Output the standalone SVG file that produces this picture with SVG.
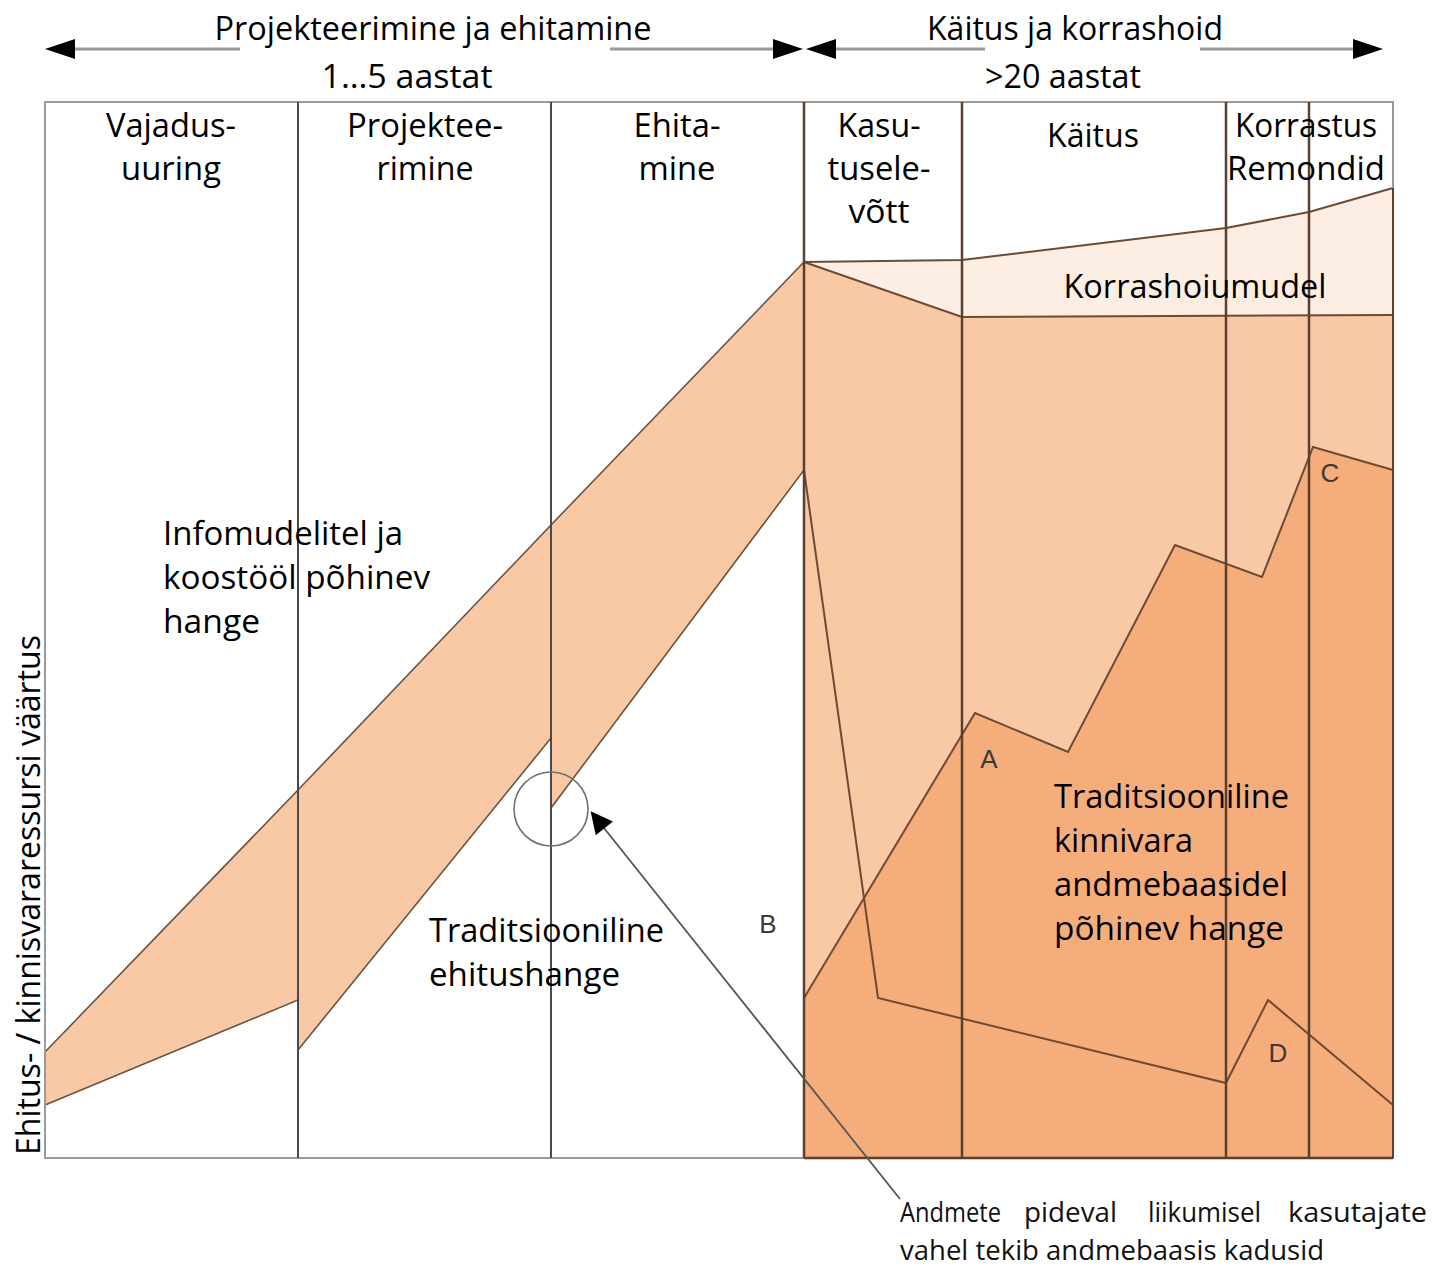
<svg xmlns="http://www.w3.org/2000/svg" width="1432" height="1266" viewBox="0 0 1432 1266">
<style>
.t{font-family:"Open Sans","Noto Sans",sans-serif;font-size:32px;fill:#000}
.c{text-anchor:middle}
.s{font-family:"Open Sans","Noto Sans",sans-serif;font-size:27px;fill:#111}
.lbl{font-family:"Liberation Sans",Arial,sans-serif;font-size:26px;fill:#3a3a3a}
.band{fill:#f9c9a5;stroke:#6a5444;stroke-width:1.6;stroke-linejoin:miter}
.ln{fill:none;stroke:#6e4a34;stroke-width:2}
.div{stroke:#4a4a4a;stroke-width:2}
.divb{stroke:#5c3f2c;stroke-width:2.5}
.arr{stroke:#9a9a9a;stroke-width:3}
</style>
<defs>
<marker id="bh" viewBox="0 0 10 10" refX="9" refY="5" markerWidth="26" markerHeight="22" markerUnits="userSpaceOnUse" orient="auto-start-reverse">
<path d="M0,0 L10,5 L0,10 z" fill="#000"/>
</marker>
</defs>
<rect width="1432" height="1266" fill="#fff"/>

<g id="right-region">
<polygon points="804,262 962,317 1393,315 1393,1158 804,1158" fill="#f9c9a5"/>
<polygon points="804,262 962,260 1226,228 1309,212 1393,188 1393,315 962,317" fill="#fdeee3"/>
<polygon points="804,998 975,713 1068,752 1175,545 1262,577 1313,447 1393,470 1393,1158 804,1158" fill="#f5ad7c"/>
<polyline class="ln" points="804,262 962,260 1226,228 1309,212 1393,188"/>
<polyline class="ln" points="804,262 962,317 1393,315"/>
<polyline class="ln" points="804,998 975,713 1068,752 1175,545 1262,577 1313,447 1393,470"/>
<polyline class="ln" points="804,470 878,998 1226,1083 1268,1000 1393,1105"/>
</g>

<g id="bands">
<polygon class="band" points="45,1052 298,790 298,1000 45,1105"/>
<polygon class="band" points="298,790 551,525 551,738 298,1050"/>
<polygon class="band" points="551,525 804,262 804,470 551,808"/>
</g>

<g id="frame">
<rect x="45" y="102" width="1348" height="1056" fill="none" stroke="#9a9a9a" stroke-width="2"/>
<line class="div" x1="298" y1="102" x2="298" y2="1158"/>
<line class="div" x1="551" y1="102" x2="551" y2="1158"/>
<line class="divb" x1="804" y1="102" x2="804" y2="1158"/>
<line class="divb" x1="962" y1="102" x2="962" y2="1158"/>
<line class="divb" x1="1226" y1="102" x2="1226" y2="1158"/>
<line class="divb" x1="1309" y1="102" x2="1309" y2="1158"/>
<line x1="804" y1="1158" x2="1393" y2="1158" stroke="#5c3f2c" stroke-width="2.5"/>
<line x1="1393" y1="188" x2="1393" y2="1158" stroke="#5c3f2c" stroke-width="2"/>
</g>

<g id="timeline-arrows">
<line class="arr" x1="240" y1="49" x2="70" y2="49"/>
<path d="M45,49 L75,39 L75,59 z" fill="#000"/>
<line class="arr" x1="610" y1="49" x2="778" y2="49"/>
<path d="M803,49 L773,39 L773,59 z" fill="#000"/>
<line class="arr" x1="985" y1="49" x2="830" y2="49"/>
<path d="M806,49 L836,39 L836,59 z" fill="#000"/>
<line class="arr" x1="1200" y1="49" x2="1358" y2="49"/>
<path d="M1383,49 L1353,39 L1353,59 z" fill="#000"/>
</g>

<g id="phase-titles">
<text class="t c" x="433" y="40" textLength="437" lengthAdjust="spacingAndGlyphs">Projekteerimine ja ehitamine</text>
<text class="t c" x="407" y="88" textLength="171" lengthAdjust="spacingAndGlyphs">1…5 aastat</text>
<text class="t c" x="1075" y="40" textLength="296" lengthAdjust="spacingAndGlyphs">Käitus ja korrashoid</text>
<text class="t c" x="1063" y="88" textLength="156" lengthAdjust="spacingAndGlyphs">&gt;20 aastat</text>
</g>

<g id="column-headers">
<text class="t c" x="171" y="137" textLength="130" lengthAdjust="spacingAndGlyphs">Vajadus-</text>
<text class="t c" x="171" y="180" textLength="100" lengthAdjust="spacingAndGlyphs">uuring</text>
<text class="t c" x="425" y="137" textLength="156" lengthAdjust="spacingAndGlyphs">Projektee-</text>
<text class="t c" x="425" y="180" textLength="97" lengthAdjust="spacingAndGlyphs">rimine</text>
<text class="t c" x="677" y="137" textLength="87" lengthAdjust="spacingAndGlyphs">Ehita-</text>
<text class="t c" x="677" y="180" textLength="77" lengthAdjust="spacingAndGlyphs">mine</text>
<text class="t c" x="879" y="137" textLength="83" lengthAdjust="spacingAndGlyphs">Kasu-</text>
<text class="t c" x="879" y="180" textLength="103" lengthAdjust="spacingAndGlyphs">tusele-</text>
<text class="t c" x="879" y="223" textLength="61" lengthAdjust="spacingAndGlyphs">võtt</text>
<text class="t c" x="1093" y="147" textLength="92" lengthAdjust="spacingAndGlyphs">Käitus</text>
<text class="t c" x="1306" y="137" textLength="142" lengthAdjust="spacingAndGlyphs">Korrastus</text>
<text class="t c" x="1306" y="180" textLength="158" lengthAdjust="spacingAndGlyphs">Remondid</text>
</g>

<g id="area-labels">
<text class="t c" x="1195" y="298" textLength="263" lengthAdjust="spacingAndGlyphs">Korrashoiumudel</text>
<text class="t" x="163" y="545" textLength="240" lengthAdjust="spacingAndGlyphs">Infomudelitel ja</text>
<text class="t" x="163" y="589" textLength="267" lengthAdjust="spacingAndGlyphs">koostööl põhinev</text>
<text class="t" x="163" y="633" textLength="97" lengthAdjust="spacingAndGlyphs">hange</text>
<text class="t" x="429" y="942" textLength="235" lengthAdjust="spacingAndGlyphs">Traditsiooniline</text>
<text class="t" x="429" y="986" textLength="191" lengthAdjust="spacingAndGlyphs">ehitushange</text>
<text class="t" x="1054" y="808" textLength="235" lengthAdjust="spacingAndGlyphs">Traditsiooniline</text>
<text class="t" x="1054" y="852" textLength="139" lengthAdjust="spacingAndGlyphs">kinnivara</text>
<text class="t" x="1054" y="896" textLength="234" lengthAdjust="spacingAndGlyphs">andmebaasidel</text>
<text class="t" x="1054" y="940" textLength="230" lengthAdjust="spacingAndGlyphs">põhinev hange</text>
</g>

<g id="point-labels">
<text class="lbl" x="768" y="933" text-anchor="middle">B</text>
<text class="lbl" x="989" y="768" text-anchor="middle">A</text>
<text class="lbl" x="1330" y="482" text-anchor="middle">C</text>
<text class="lbl" x="1278" y="1062" text-anchor="middle">D</text>
</g>

<g id="axis-label">
<text class="t" transform="translate(40,1155) rotate(-90)" x="0" y="0" textLength="520" lengthAdjust="spacingAndGlyphs">Ehitus- / kinnisvararessursi väärtus</text>
</g>

<g id="connectors">
<circle cx="551" cy="809" r="37" fill="none" stroke="#707070" stroke-width="1.6"/>
<line x1="900" y1="1199" x2="592" y2="813" stroke="#555" stroke-width="1.8" marker-end="url(#bh)"/>
</g>

<g id="note">
<text class="s" x="900" y="1222" textLength="101" lengthAdjust="spacingAndGlyphs">Andmete</text>
<text class="s" x="1024" y="1222" textLength="93" lengthAdjust="spacingAndGlyphs">pideval</text>
<text class="s" x="1148" y="1222" textLength="113" lengthAdjust="spacingAndGlyphs">liikumisel</text>
<text class="s" x="1288" y="1222" textLength="139" lengthAdjust="spacingAndGlyphs">kasutajate</text>
<text class="s" x="900" y="1260" textLength="424" lengthAdjust="spacingAndGlyphs">vahel tekib andmebaasis kadusid</text>
</g>
</svg>
